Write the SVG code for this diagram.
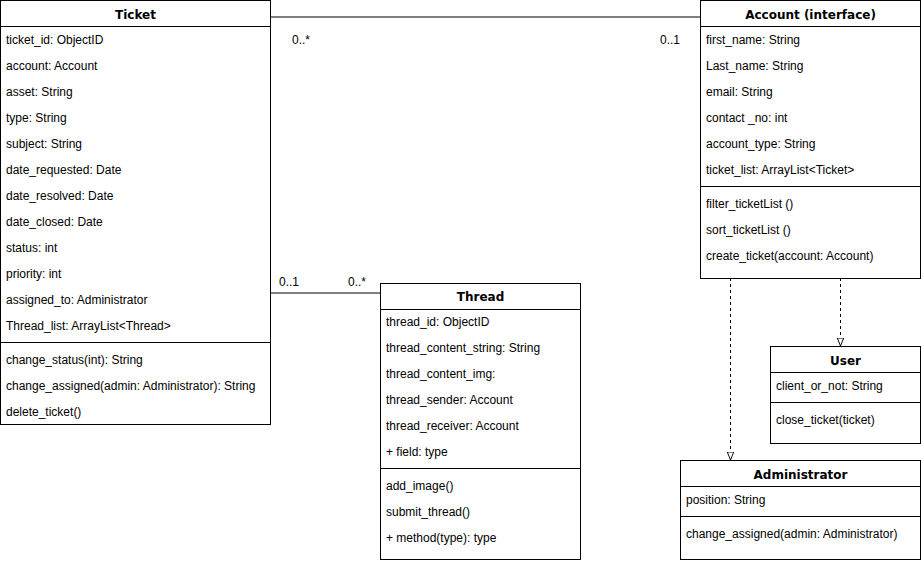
<svg xmlns="http://www.w3.org/2000/svg" width="921" height="562" viewBox="0 0 921 562">
<style>
.box{fill:#fff;stroke:#000;stroke-width:1}
.sep{stroke:#000;stroke-width:1}
.t{font-family:"Liberation Sans",Arial,sans-serif;font-size:12px;fill:#000}
.h{font-family:"DejaVu Sans",Verdana,sans-serif;font-size:12px;font-weight:bold;fill:#000;text-anchor:middle}
.assoc{stroke:#000;stroke-width:1;fill:none}
.dep{stroke:#000;stroke-width:1;fill:none;stroke-dasharray:3 3}
</style>
<defs>
<marker id="tri" viewBox="0 0 10 10" refX="10" refY="5" markerWidth="8" markerHeight="8" markerUnits="userSpaceOnUse" orient="auto">
<path d="M0,1 L10,5 L0,9 Z" fill="#fff" stroke="#000" stroke-width="1.2"/>
</marker>
</defs>
<g id="connectors">
<line class="assoc" x1="270.5" y1="17" x2="700.5" y2="17"/>
<text class="t" x="292" y="44">0..*</text>
<text class="t" x="660" y="44">0..1</text>
<line class="assoc" x1="270.5" y1="293" x2="380.5" y2="293"/>
<text class="t" x="279" y="286">0..1</text>
<text class="t" x="348" y="286">0..*</text>
<line class="dep" x1="840.5" y1="278" x2="840.5" y2="346" marker-end="url(#tri)"/>
<line class="dep" x1="730.5" y1="278" x2="730.5" y2="460" marker-end="url(#tri)"/>
</g>
<g id="ticket">
<rect class="box" x="0.5" y="0.5" width="270" height="424"/>
<line class="sep" x1="0.5" y1="26.5" x2="270.5" y2="26.5"/>
<text class="h" x="135.5" y="19">Ticket</text>
<text class="t" x="6" y="44">ticket_id: ObjectID</text>
<text class="t" x="6" y="70">account: Account</text>
<text class="t" x="6" y="96">asset: String</text>
<text class="t" x="6" y="122">type: String</text>
<text class="t" x="6" y="148">subject: String</text>
<text class="t" x="6" y="174">date_requested: Date</text>
<text class="t" x="6" y="200">date_resolved: Date</text>
<text class="t" x="6" y="226">date_closed: Date</text>
<text class="t" x="6" y="252">status: int</text>
<text class="t" x="6" y="278">priority: int</text>
<text class="t" x="6" y="304">assigned_to: Administrator</text>
<text class="t" x="6" y="330">Thread_list: ArrayList&lt;Thread&gt;</text>
<line class="sep" x1="0.5" y1="342.5" x2="270.5" y2="342.5"/>
<text class="t" x="6" y="364">change_status(int): String</text>
<text class="t" x="6" y="390">change_assigned(admin: Administrator): String</text>
<text class="t" x="6" y="416">delete_ticket()</text>
</g>
<g id="account">
<rect class="box" x="700.5" y="0.5" width="220" height="278"/>
<line class="sep" x1="700.5" y1="26.5" x2="920.5" y2="26.5"/>
<text class="h" x="810.5" y="19">Account (interface)</text>
<text class="t" x="706" y="44">first_name: String</text>
<text class="t" x="706" y="70">Last_name: String</text>
<text class="t" x="706" y="96">email: String</text>
<text class="t" x="706" y="122">contact _no: int</text>
<text class="t" x="706" y="148">account_type: String</text>
<text class="t" x="706" y="174">ticket_list: ArrayList&lt;Ticket&gt;</text>
<line class="sep" x1="700.5" y1="186.5" x2="920.5" y2="186.5"/>
<text class="t" x="706" y="208">filter_ticketList ()</text>
<text class="t" x="706" y="234">sort_ticketList ()</text>
<text class="t" x="706" y="260">create_ticket(account: Account)</text>
</g>
<g id="thread">
<rect class="box" x="380.5" y="283.5" width="200" height="276"/>
<line class="sep" x1="380.5" y1="309.5" x2="580.5" y2="309.5"/>
<text class="h" x="480.5" y="301">Thread</text>
<text class="t" x="386" y="326">thread_id: ObjectID</text>
<text class="t" x="386" y="352">thread_content_string: String</text>
<text class="t" x="386" y="378">thread_content_img:</text>
<text class="t" x="386" y="404">thread_sender: Account</text>
<text class="t" x="386" y="430">thread_receiver: Account</text>
<text class="t" x="386" y="456">+ field: type</text>
<line class="sep" x1="380.5" y1="468.5" x2="580.5" y2="468.5"/>
<text class="t" x="386" y="490">add_image()</text>
<text class="t" x="386" y="516">submit_thread()</text>
<text class="t" x="386" y="542">+ method(type): type</text>
</g>
<g id="user">
<rect class="box" x="770.5" y="346.5" width="150" height="97"/>
<line class="sep" x1="770.5" y1="372.5" x2="920.5" y2="372.5"/>
<text class="h" x="845.5" y="365">User</text>
<text class="t" x="776" y="390">client_or_not: String</text>
<line class="sep" x1="770.5" y1="402.5" x2="920.5" y2="402.5"/>
<text class="t" x="776" y="424">close_ticket(ticket)</text>
</g>
<g id="administrator">
<rect class="box" x="680.5" y="460.5" width="240" height="99"/>
<line class="sep" x1="680.5" y1="486.5" x2="920.5" y2="486.5"/>
<text class="h" x="800.5" y="479">Administrator</text>
<text class="t" x="686" y="504">position: String</text>
<line class="sep" x1="680.5" y1="516.5" x2="920.5" y2="516.5"/>
<text class="t" x="686" y="538">change_assigned(admin: Administrator)</text>
</g>
</svg>
